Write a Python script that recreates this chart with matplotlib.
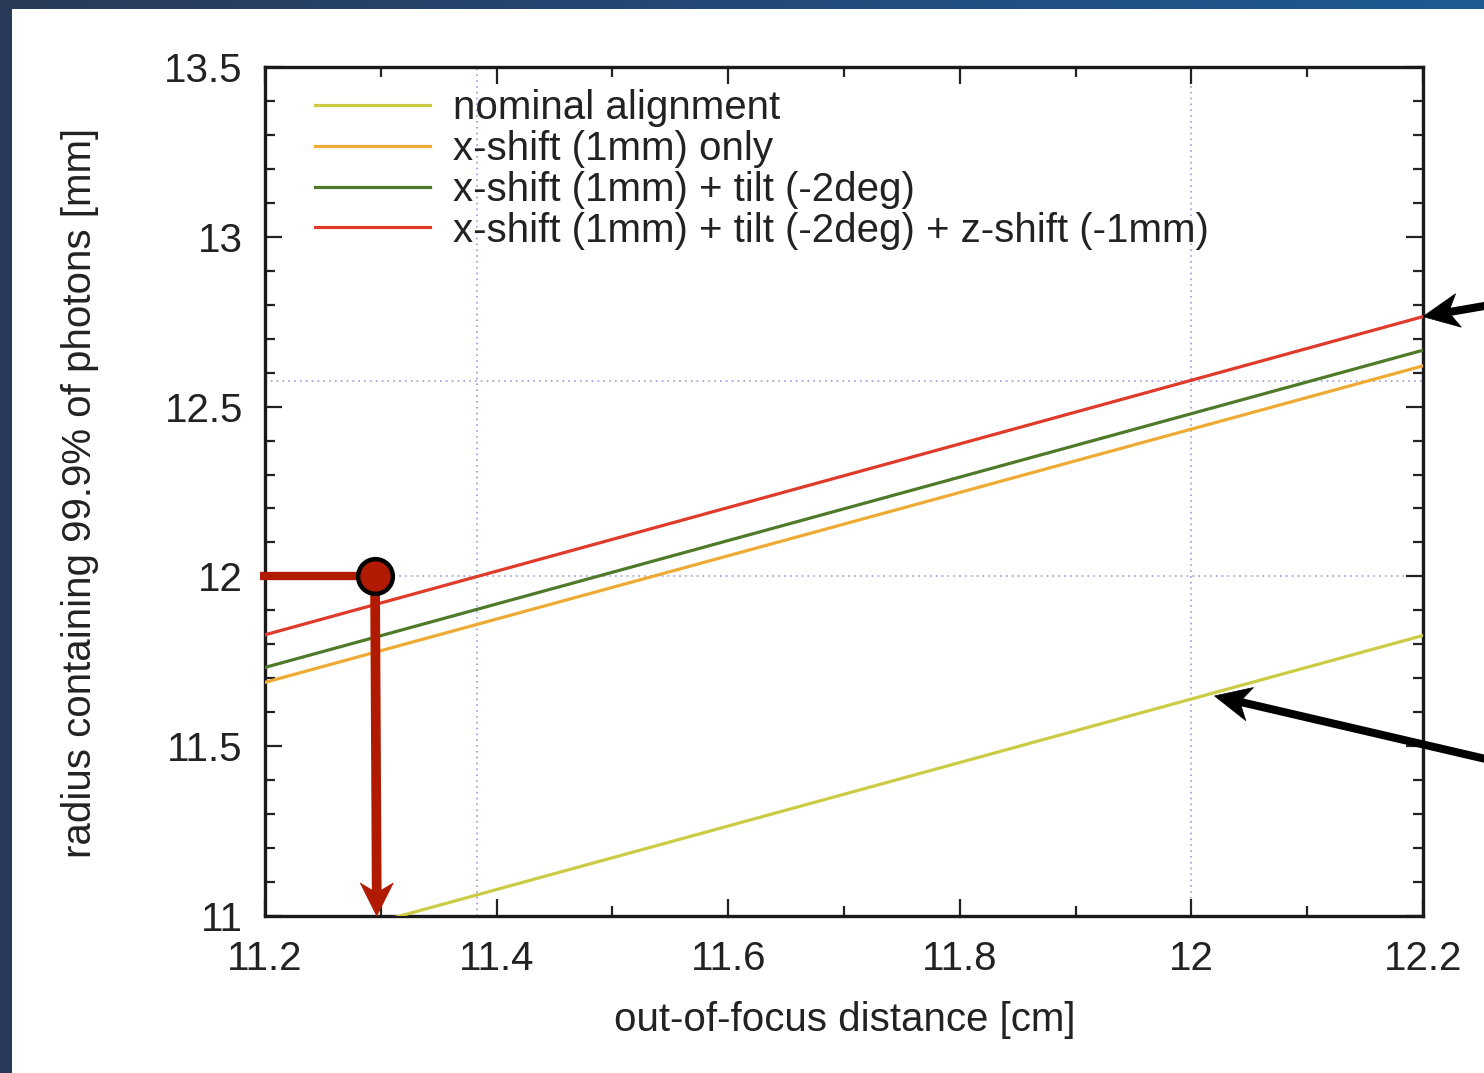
import numpy as np
import matplotlib
matplotlib.use("Agg")
import matplotlib.pyplot as plt
from matplotlib.ticker import MultipleLocator, FuncFormatter
from matplotlib.patches import Rectangle, Polygon
from matplotlib.transforms import ScaledTranslation

plt.rcParams['font.family'] = ['Liberation Sans', 'DejaVu Sans']

# Radius containing 99.9% of photons vs out-of-focus distance (linear fits)
distance_cm = [11.2, 12.2]
nominal = [10.891, 11.826]
xshift_only = [11.688, 12.620]
xshift_tilt = [11.732, 12.666]
xshift_tilt_zshift = [11.828, 12.765]

labels = [
    "nominal alignment",
    "x-shift (1mm) only",
    "x-shift (1mm) + tilt (-2deg)",
    "x-shift (1mm) + tilt (-2deg) + z-shift (-1mm)",
]
colors = ["#cccc44", "#eeaa33", "#4f7a2a", "#e03a2a"]

# Reference grid: where the worst case reaches 12 mm, and its radius at 12 cm
grid_x = [11.383, 12.0]
grid_y = [12.0, 12.575]

# Operating point
point_x, point_y = 11.295, 12.0
# Point on the nominal curve picked out by the lower callout
nominal_pick = (12.02, 11.648)

W, H = 1484, 1073
FS = 29
TXT = "#222222"
fig = plt.figure(figsize=(W / 100, H / 100), dpi=100)

# Dark blue frame with white slide panel
bg = fig.add_axes([0, 0, 1, 1])
bg.set_axis_off()
grad = np.linspace(0, 1, 256)[None, :]
bg.imshow(grad, extent=[0, W, 0, H], aspect='auto',
          cmap=matplotlib.colors.LinearSegmentedColormap.from_list(
              "frame", ["#2a3a58", "#234a78", "#1f5a94"]))
bg.add_patch(Rectangle((12, 0), W - 12, H - 9, facecolor="white", edgecolor="none"))
bg.set_xlim(0, W)
bg.set_ylim(0, H)

ax = fig.add_axes([265 / W, 1 - 916 / H, (1423 - 265) / W, (916 - 67) / H])
ax.set_xlim(11.2, 12.2)
ax.set_ylim(11.0, 13.5)

for gx in grid_x:
    ax.axvline(gx, color="#9a9ae0", lw=1.2, ls=(0, (1, 2.5)), zorder=1)
for gy in grid_y:
    ax.axhline(gy, color="#9a9ae0", lw=1.2, ls=(0, (1, 2.5)), zorder=1)

series = [nominal, xshift_only, xshift_tilt, xshift_tilt_zshift]
for ys, lab, c in zip(series, labels, colors):
    ax.plot(distance_cm, ys, color=c, lw=2.3, label=lab, zorder=3)

ax.xaxis.set_major_locator(MultipleLocator(0.2))
ax.xaxis.set_minor_locator(MultipleLocator(0.1))
ax.yaxis.set_major_locator(MultipleLocator(0.5))
ax.yaxis.set_minor_locator(MultipleLocator(0.1))
ax.xaxis.set_major_formatter(FuncFormatter(lambda v, p: f"{v:g}"))
ax.yaxis.set_major_formatter(FuncFormatter(lambda v, p: f"{v:g}"))
ax.tick_params(which="both", direction="in", top=True, right=True, color="#222222", width=1.6)
ax.tick_params(which="major", length=12)
ax.tick_params(which="minor", length=7)
ax.tick_params(axis="x", labelsize=FS, pad=17, labelcolor=TXT)
ax.tick_params(axis="y", labelsize=FS, pad=16, labelcolor=TXT)
for s in ax.spines.values():
    s.set_linewidth(2.4)
    s.set_color("#1a1a1a")

fig.text(845 / W, 1 - 1020 / H, "out-of-focus distance [cm]", fontsize=FS,
         color=TXT, ha="center", va="center")
fig.text(80 / W, 1 - 493 / H, "radius containing 99.9% of photons [mm]",
         fontsize=FS, color=TXT, ha="center", va="center", rotation=90)

leg = ax.legend(loc="upper left", bbox_to_anchor=(0.043, 0.974), frameon=False,
                fontsize=FS, handlelength=2.85, handletextpad=0.57,
                labelspacing=0.07, borderaxespad=0, borderpad=0)
for t in leg.get_texts():
    t.set_color(TXT)


def stealth_head(x, y, angle_deg, color, length, width, notch, z):
    """Swept-back arrow head with its tip at data point (x, y); sizes in pixels."""
    a = np.deg2rad(angle_deg)
    d = np.array([np.cos(a), np.sin(a)])
    n = np.array([-d[1], d[0]])
    pts = np.array([
        [0, 0],
        -length * d + width / 2 * n,
        -(length - notch) * d,
        -length * d - width / 2 * n,
    ]) / 100.0
    trans = fig.dpi_scale_trans + ScaledTranslation(x, y, ax.transData)
    ax.add_patch(Polygon(pts, closed=True, transform=trans, facecolor=color,
                         edgecolor=color, lw=0.5, zorder=z, clip_on=False))


# Read-off marker: horizontal guide, point, and arrow down to the x axis
red = "#b01a00"
ax.plot([11.196, point_x], [point_y, point_y], color=red, lw=6, clip_on=False,
        solid_capstyle="butt", zorder=5)
ax.plot([point_x, point_x + 0.0015], [point_y, 11.06], color=red, lw=7,
        clip_on=False, solid_capstyle="butt", zorder=5)
stealth_head(point_x + 0.0015, 11.0, -90, red, 33, 33, 10, 5)
ax.plot([point_x], [point_y], marker="o", ms=25, mfc=red, mec="black", mew=3.2,
        zorder=6, clip_on=False)

# Callout arrows coming in from the right margin
for (tx, ty), (sx, sy) in [((12.2, xshift_tilt_zshift[1]), (1490, 1073 - 305)),
                           (nominal_pick, (1490, 1073 - 760))]:
    tip = ax.transData.transform((tx, ty))
    ang = np.degrees(np.arctan2(tip[1] - sy, tip[0] - sx))
    d = np.array([np.cos(np.radians(ang)), np.sin(np.radians(ang))])
    shaft_end = tip - 26 * d
    ax.plot([sx, shaft_end[0]], [sy, shaft_end[1]], color="black", lw=5.8,
            transform=None, clip_on=False, solid_capstyle="butt", zorder=7)
    stealth_head(tx, ty, ang, "black", 36, 34, 10, 7)

fig.savefig("out.png", dpi=100)
